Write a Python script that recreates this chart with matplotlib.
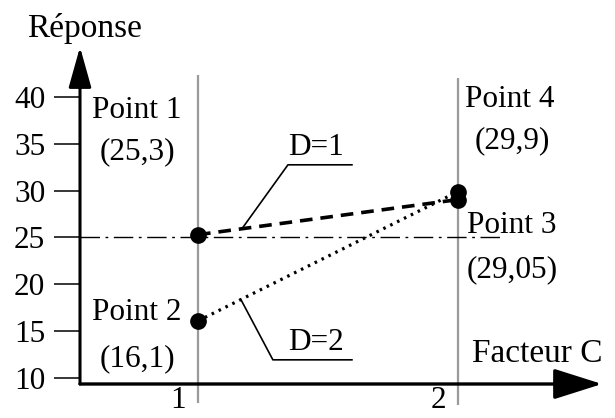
import matplotlib
matplotlib.use("Agg")
import matplotlib.pyplot as plt
import matplotlib.transforms as mtransforms
import numpy as np

# Levels of factor C and responses for the two levels of factor D
levels_c = [1, 2]
resp_d1 = [25.3, 29.05]   # D=1 : point 1 -> point 3
resp_d2 = [16.1, 29.9]    # D=2 : point 2 -> point 4
ref_level = 25
y_ticks = [10, 15, 20, 25, 30, 35, 40]
x_tick_labels = ["1", "2"]

point_names = ["Point 1", "Point 3", "Point 2", "Point 4"]

plt.rcParams["font.family"] = ["Liberation Serif", "DejaVu Serif"]
FS = 22.5


def fr(v):
    return "(" + ("%g" % v).replace(".", ",") + ")"


fig = plt.figure(figsize=(6.15, 4.18), dpi=100)
ax = fig.add_axes([80 / 615, 1 - 384 / 418, (602 - 80) / 615, (384 - 47) / 418])
ax.set_xlim(0.5462, 2.5538)
ax.set_ylim(9.359, 45.338)

for s in ax.spines.values():
    s.set_visible(False)

# Axes drawn as arrows
ax.annotate("", xy=(1, 0), xytext=(0, 0), xycoords="axes fraction",
            arrowprops=dict(arrowstyle="-|>,head_length=30,head_width=9.5",
                            mutation_scale=1, lw=2.4, color="black",
                            shrinkA=0, shrinkB=0))
ax.annotate("", xy=(0, 1), xytext=(0, 0), xycoords="axes fraction",
            arrowprops=dict(arrowstyle="-|>,head_length=25,head_width=7",
                            mutation_scale=1, lw=2.2, color="black",
                            shrinkA=0, shrinkB=0))

# Ticks
ax.set_yticks(y_ticks)
ax.set_yticklabels([str(t) for t in y_ticks], fontsize=FS)
ax.tick_params(axis="y", direction="out", length=19, width=1.1, pad=6)
ax.set_xticks(levels_c)
ax.set_xticklabels(x_tick_labels, fontsize=FS)
ax.tick_params(axis="x", length=0, pad=1.5)
shift = mtransforms.ScaledTranslation(-0.20, 0, fig.dpi_scale_trans)
for lab in ax.get_xticklabels():
    lab.set_transform(lab.get_transform() + shift)

# Gray guide lines at the factor levels
ax.vlines(levels_c[0], 7.33, 42.35, color="#9a9a9a", lw=1.6, clip_on=False, zorder=1)
ax.vlines(levels_c[1], 7.1, 42.0, color="#9a9a9a", lw=1.6, clip_on=False, zorder=1)

# Reference response level
ax.plot([0.5462, 2.169], [ref_level, ref_level], color="black", lw=1.0,
        dashes=(14, 4, 2, 4), zorder=2)

# Response lines
ax.plot(levels_c, resp_d1, color="black", lw=2.6, dashes=(3.5, 2.2), zorder=3)
ax.plot(levels_c, resp_d2, color="black", lw=2.3, dashes=(0.8, 1.6), zorder=3)
ax.plot(levels_c + levels_c, resp_d1 + resp_d2, "o", color="black", ms=11,
        zorder=4, clip_on=False)

# Point labels
ax.text(0.5923, 37.76, point_names[0], fontsize=FS, ha="left", va="baseline")
ax.text(0.7654, 33.38, fr(resp_d1[0]), fontsize=FS, ha="center", va="baseline")
ax.text(0.5923, 16.19, point_names[2], fontsize=FS, ha="left", va="baseline")
ax.text(0.7654, 11.28, fr(resp_d2[0]), fontsize=FS, ha="center", va="baseline")
ax.text(2.027, 38.93, point_names[3], fontsize=FS, ha="left", va="baseline")
ax.text(2.208, 34.55, fr(resp_d2[1]), fontsize=FS, ha="center", va="baseline")
ax.text(2.035, 25.48, point_names[1], fontsize=FS, ha="left", va="baseline")
ax.text(2.208, 20.78, fr(resp_d1[1]), fontsize=FS, ha="center", va="baseline")

# Line labels with leaders
def leader(label, x_text, y_base, x_under0, x_anchor, xs, ys):
    ax.text(x_text, y_base, label, fontsize=FS, ha="left", va="baseline")
    y_anchor = np.interp(x_anchor, xs, ys)
    y_under = y_base - 1.05
    ax.plot([1.592, x_under0, x_anchor], [y_under, y_under, y_anchor],
            color="black", lw=1.2, zorder=3)

leader("D=1", 1.346, 33.81, 1.346, 1.169, levels_c, resp_d1)
leader("D=2", 1.346, 12.99, 1.288, 1.165, levels_c, resp_d2)

# Axis titles
ax.text(0.5654, 46.40, "Réponse", fontsize=24, ha="center", va="baseline")
ax.text(2.054, 11.71, "Facteur C", fontsize=24, ha="left", va="baseline")

fig.savefig("out.png", dpi=100)
